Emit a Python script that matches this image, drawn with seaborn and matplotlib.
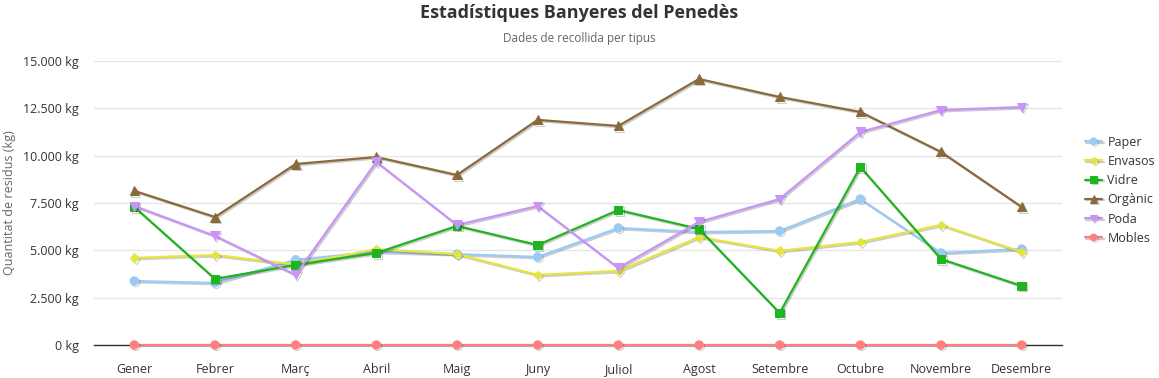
import matplotlib
matplotlib.use("Agg")
import matplotlib.pyplot as plt
import matplotlib.patheffects as pe
from matplotlib.ticker import FuncFormatter
import numpy as np
import pandas as pd
import seaborn as sns

months = ["Gener", "Febrer", "Març", "Abril", "Maig", "Juny", "Juliol",
          "Agost", "Setembre", "Octubre", "Novembre", "Desembre"]

paper = [3380, 3280, 4500, 4920, 4800, 4650, 6180, 5970, 6020, 7710, 4860, 5070]
envasos = [4600, 4750, 4250, 5060, 4800, 3700, 3910, 5700, 4970, 5440, 6340, 4910]
vidre = [7290, 3490, 4230, 4860, 6290, 5280, 7130, 6130, 1690, 9400, 4540, 3120]
organic = [8140, 6760, 9560, 9930, 8980, 11890, 11570, 14050, 13100, 12310, 10200, 7290]
poda = [7340, 5760, 3700, 9670, 6340, 7340, 4070, 6500, 7710, 11250, 12410, 12570]
mobles = [0] * 12

series_names = ["Paper", "Envasos", "Vidre", "Orgànic", "Poda", "Mobles"]
series_values = [paper, envasos, vidre, organic, poda, mobles]

colors = {"Paper": "#99cbf7", "Envasos": "#e5e53f", "Vidre": "#1fb51f",
          "Orgànic": "#8b6a3a", "Poda": "#c994f7", "Mobles": "#ff7f7f"}
markers = {"Paper": "o", "Envasos": "D", "Vidre": "s",
           "Orgànic": "^", "Poda": "v", "Mobles": "o"}
msizes = {"Paper": 6, "Envasos": 4.5, "Vidre": 6, "Orgànic": 6.5, "Poda": 6.5, "Mobles": 6}

rows = []
for name, vals in zip(series_names, series_values):
    for i, v in enumerate(vals):
        rows.append({"mes": i, "tipus": name, "kg": v})
df = pd.DataFrame(rows)

sns.set_style("white")
plt.rcParams["font.family"] = ["Open Sans", "DejaVu Sans"]

fig = plt.figure(figsize=(11.59, 3.78), dpi=100)
ax = fig.add_axes([0.0811, 0.0873, 0.8352, 0.7513])

for name in series_names:
    sub = df[df["tipus"] == name]
    sns.lineplot(data=sub, x="mes", y="kg", ax=ax, color=colors[name],
                 marker=markers[name], markersize=msizes[name],
                 markeredgecolor=colors[name], linewidth=1.6, label=name,
                 clip_on=False, zorder=3,
                 path_effects=[pe.SimpleLineShadow(offset=(1, -1), alpha=0.2, shadow_color="black"),
                               pe.Normal()])

ax.set_xlim(-0.5, 11.5)
ax.set_ylim(0, 15000)
ax.set_yticks(np.arange(0, 15001, 2500))
ax.yaxis.set_major_formatter(FuncFormatter(lambda v, p: f"{int(v):,} kg".replace(",", ".")))
ax.set_xticks(range(12))
ax.set_xticklabels(months)
ax.grid(axis="y", color="#e6e6e6", linewidth=1)
ax.set_axisbelow(True)
for s in ["top", "right", "left"]:
    ax.spines[s].set_visible(False)
ax.spines["bottom"].set_color("#333333")
ax.spines["bottom"].set_linewidth(1)
ax.spines["bottom"].set_zorder(2.5)
ax.tick_params(axis="both", length=0, labelsize=9, colors="#333333")
ax.tick_params(axis="x", pad=13)
ax.tick_params(axis="y", pad=11)
ax.set_xlabel("")
ax.set_ylabel("Quantitat de residus (kg)", color="#666666", fontsize=9, labelpad=5)

leg = ax.legend(loc="center left", bbox_to_anchor=(1.012, 0.545), frameon=False,
                fontsize=9, handlelength=1.4, labelspacing=0.5, handletextpad=0.4,
                markerscale=0.8)
for t in leg.get_texts():
    t.set_color("#333333")

fig.text(0.5, 0.965, "Estadístiques Banyeres del Penedès", ha="center", va="center",
         fontsize=13, fontweight="bold", color="#333333")
fig.text(0.5, 0.898, "Dades de recollida per tipus", ha="center", va="center",
         fontsize=8.5, color="#666666")

fig.savefig("out.png", dpi=100)
